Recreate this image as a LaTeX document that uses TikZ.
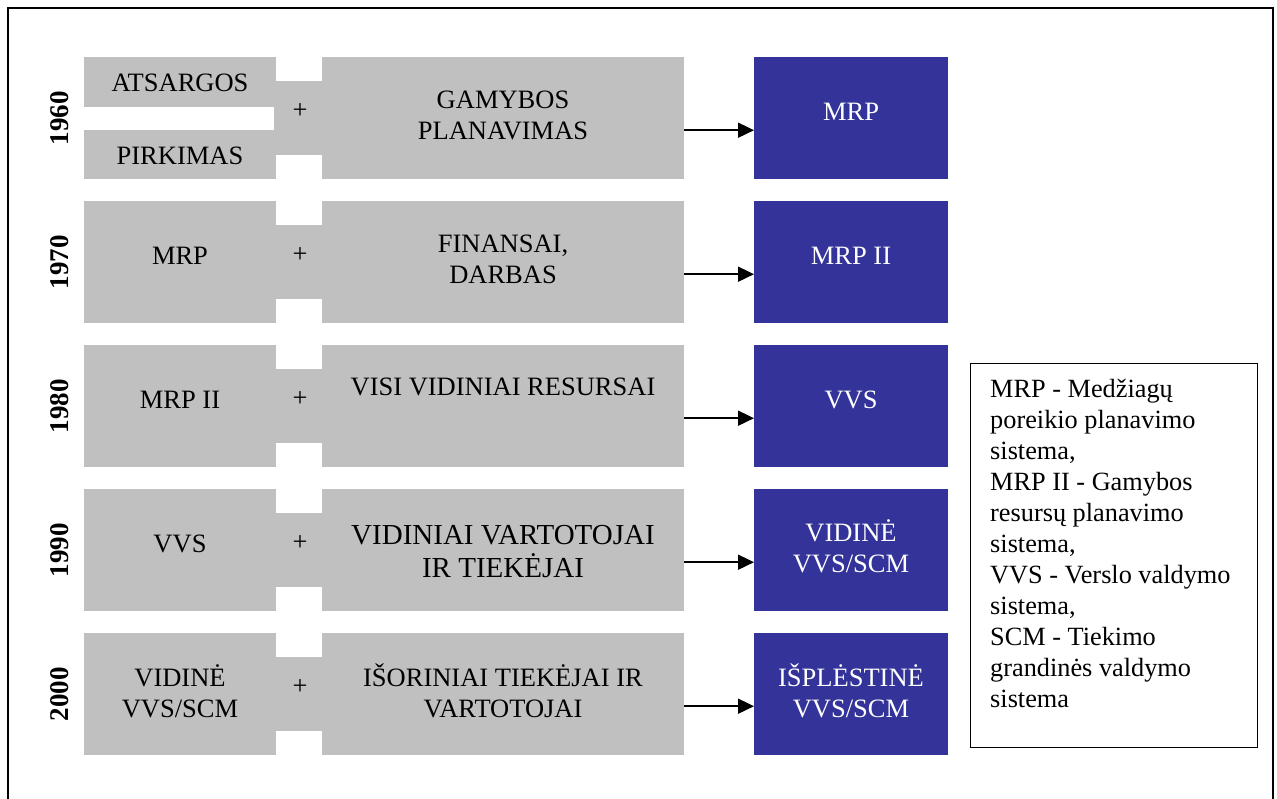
\documentclass[tikz,border=0pt]{standalone}
\usepackage{fontspec}
\setmainfont{Liberation Serif}
\usetikzlibrary{arrows.meta}
\definecolor{boxgray}{HTML}{C0C0C0}
\definecolor{sysblue}{HTML}{333399}
\begin{document}
\begin{tikzpicture}[x=1pt,y=-1pt,
  gbox/.style={fill=boxgray,draw=none,inner sep=0pt,anchor=north west},
  leftbox/.style={gbox,minimum width=192pt,minimum height=122pt},
  halfbox/.style={gbox,minimum width=192pt,minimum height=50pt},
  joinbox/.style={gbox,minimum width=48pt,minimum height=74pt},
  midbox/.style={gbox,minimum width=362pt,minimum height=122pt},
  sysbox/.style={fill=sysblue,draw=none,inner sep=0pt,anchor=north west,
    minimum width=194pt,minimum height=122pt},
  lbl/.style={font=\fontsize{26.5}{31}\selectfont,align=center,inner sep=0pt},
  biglbl/.style={lbl,font=\fontsize{29}{33}\selectfont},
  wlbl/.style={lbl,text=white},
  year/.style={font=\bfseries\fontsize{27}{31}\selectfont,rotate=90,inner sep=0pt},
  arr/.style={-{Triangle[length=16pt,width=15pt]},line width=1.8pt}
]
\useasboundingbox (0,0) rectangle (1277,798);

% outer frame (open at the bottom)
\coordinate (fa) at (8,810);
\coordinate (fb) at (8,8);
\coordinate (fc) at (1273,8);
\coordinate (fd) at (1273,810);
\draw[line width=2.2pt] (fa) -- (fb) -- (fc) -- (fd);

% ---- 1960
\node[halfbox] (inv) at (84,57) {};
\node[halfbox,minimum height=49pt] (buy) at (84,130) {};
\node[joinbox] (j1) at (274,81) {};
\node[midbox] (m1) at (322,57) {};
\node[sysbox] (s1) at (754,57) {};
\node[year] (y1) at (60,118) {1960};
\node[lbl] (t1a) at (180,83) {ATSARGOS};
\node[lbl] (t1b) at (180,156) {PIRKIMAS};
\node[lbl] (p1) at (300,111) {+};
\node[lbl] (t1c) at (503,115) {GAMYBOS\\PLANAVIMAS};
\node[wlbl] (t1d) at (851,112) {MRP};
\draw[arr] ([yshift=-12pt]m1.east) -- ([yshift=-12pt]s1.west);

% ---- 1970
\node[leftbox] (l2) at (84,201) {};
\node[joinbox] (j2) at (274,225) {};
\node[midbox] (m2) at (322,201) {};
\node[sysbox] (s2) at (754,201) {};
\node[year] (y2) at (60,262) {1970};
\node[lbl] (t2a) at (180,256) {MRP};
\node[lbl] (p2) at (300,255) {+};
\node[lbl] (t2c) at (503,259.5) {FINANSAI,\\DARBAS};
\node[wlbl] (t2d) at (851,256) {MRP II};
\draw[arr] ([yshift=-12pt]m2.east) -- ([yshift=-12pt]s2.west);

% ---- 1980
\node[leftbox] (l3) at (84,345) {};
\node[joinbox] (j3) at (274,369) {};
\node[midbox] (m3) at (322,345) {};
\node[sysbox] (s3) at (754,345) {};
\node[year] (y3) at (60,406) {1980};
\node[lbl] (t3a) at (180,400) {MRP II};
\node[lbl] (p3) at (300,399) {+};
\node[lbl] (t3c) at (503,387) {VISI VIDINIAI RESURSAI};
\node[wlbl] (t3d) at (851,400) {VVS};
\draw[arr] ([yshift=-12pt]m3.east) -- ([yshift=-12pt]s3.west);

% ---- 1990
\node[leftbox] (l4) at (84,489) {};
\node[joinbox] (j4) at (274,513) {};
\node[midbox] (m4) at (322,489) {};
\node[sysbox] (s4) at (754,489) {};
\node[year] (y4) at (60,550) {1990};
\node[lbl] (t4a) at (180,544) {VVS};
\node[lbl] (p4) at (300,543) {+};
\node[biglbl] (t4c) at (503,552) {VIDINIAI VARTOTOJAI\\IR TIEKĖJAI};
\node[wlbl] (t4d) at (851,546.5) {VIDINĖ\\VVS/SCM};
\draw[arr] ([yshift=-12pt]m4.east) -- ([yshift=-12pt]s4.west);

% ---- 2000
\node[leftbox] (l5) at (84,633) {};
\node[joinbox] (j5) at (274,657) {};
\node[midbox] (m5) at (322,633) {};
\node[sysbox] (s5) at (754,633) {};
\node[year] (y5) at (60,694) {2000};
\node[lbl] (t5a) at (180,691) {VIDINĖ\\VVS/SCM};
\node[lbl] (p5) at (300,687) {+};
\node[lbl] (t5c) at (503,691) {IŠORINIAI TIEKĖJAI IR\\VARTOTOJAI};
\node[wlbl] (t5d) at (851,691) {IŠPLĖSTINĖ\\VVS/SCM};
\draw[arr] ([yshift=-12pt]m5.east) -- ([yshift=-12pt]s5.west);

% ---- abbreviations
\node[draw,line width=1.4pt,inner sep=0pt,anchor=north west,
  minimum width=287pt,minimum height=384pt] (key) at (970,363) {};
\node[anchor=north west,inner sep=0pt,align=left,
  font=\fontsize{26.3}{31}\selectfont] (keytxt) at (990,379) {%
MRP - Medžiagų\\
poreikio planavimo\\
sistema,\\
MRP II - Gamybos\\
resursų planavimo\\
sistema,\\
VVS - Verslo valdymo\\
sistema,\\
SCM - Tiekimo\\
grandinės valdymo\\
sistema};
\end{tikzpicture}
\end{document}
